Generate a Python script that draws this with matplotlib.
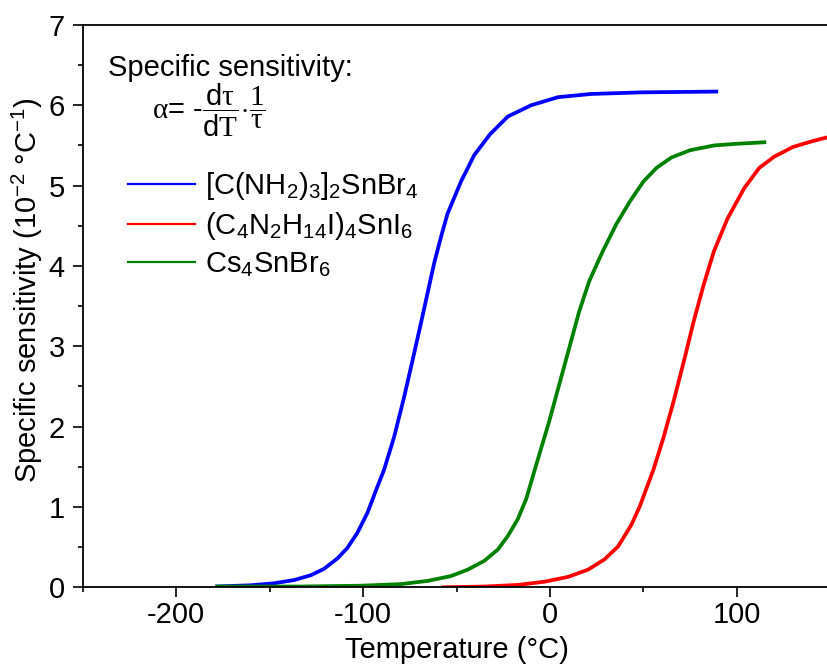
import matplotlib
matplotlib.use("Agg")
import matplotlib.pyplot as plt
from matplotlib.lines import Line2D
from matplotlib.ticker import MultipleLocator

plt.rcParams['font.family'] = ['Liberation Sans', 'DejaVu Sans']
plt.rcParams['mathtext.fontset'] = 'custom'
plt.rcParams['mathtext.rm'] = 'Liberation Sans'
plt.rcParams['mathtext.it'] = 'Liberation Sans:italic'
plt.rcParams['mathtext.bf'] = 'Liberation Serif'  # used for the serif symbols of the formula
plt.rcParams['axes.unicode_minus'] = False

# values
x_blue = [-179, -160.4, -147.8, -137, -128, -120.9, -113.7, -108.4, -103, -97.6, -93.2, -88.8, -83.4,
          -78.0, -72.7, -69.1, -65.5, -61.9, -58.3, -54.8, -47.6, -40.5, -32, -22.5, -10, 4.3, 22, 49, 90]
y_blue = [0.01, 0.025, 0.05, 0.09, 0.15, 0.23, 0.36, 0.49, 0.68, 0.93, 1.20, 1.46, 1.87,
          2.37, 2.91, 3.28, 3.66, 4.04, 4.36, 4.65, 5.05, 5.38, 5.64, 5.86, 6.00, 6.10, 6.14, 6.16, 6.17]

x_red = [-58, -35, -17.2, -2.9, 9.7, 20.4, 29.3, 36.5, 43.6, 48.1, 55.3, 60.7, 66.1, 71.5, 76.9, 82.3,
         87.7, 95, 104, 112, 120, 130, 140, 150]
y_red = [0.0, 0.01, 0.03, 0.07, 0.13, 0.22, 0.35, 0.51, 0.78, 1.01, 1.46, 1.86, 2.31, 2.80, 3.31, 3.77,
         4.18, 4.59, 4.97, 5.22, 5.36, 5.48, 5.55, 5.61]

x_green = [-179, -133.5, -101.3, -79.8, -65.5, -53, -44, -35.1, -27.9, -22.5, -17.2, -12.7, -8.3, -6.0, -0.6,
           4.8, 10.2, 15.6, 21.0, 28.2, 35.5, 42.7, 50, 57, 65, 75, 88, 100, 115.7]
y_green = [0.01, 0.01, 0.02, 0.04, 0.08, 0.14, 0.22, 0.33, 0.47, 0.64, 0.85, 1.10, 1.45, 1.63, 2.05,
           2.51, 2.97, 3.43, 3.81, 4.18, 4.52, 4.80, 5.05, 5.22, 5.35, 5.44, 5.50, 5.52, 5.54]

labels = [r'[C(NH$_2$)$_3$]$_2$SnBr$_4$', r'(C$_4$N$_2$H$_{14}$I)$_4$SnI$_6$', r'Cs$_4$SnBr$_6$']
colors = ['#0000ff', '#ff0000', '#008000']

fig = plt.figure(figsize=(8.27, 6.72), dpi=100)
ax = fig.add_axes([0.100, 0.126, 0.904, 0.837])

ax.plot(x_blue, y_blue, c=colors[0], lw=2.7, solid_capstyle='butt')
ax.plot(x_green, y_green, c=colors[2], lw=2.7, solid_capstyle='butt')
ax.plot(x_red, y_red, c=colors[1], lw=2.7, solid_capstyle='butt')

ax.set_xlim(-250, 150)
ax.set_ylim(0, 7)
ax.xaxis.set_major_locator(MultipleLocator(100))
ax.xaxis.set_minor_locator(MultipleLocator(50))
ax.yaxis.set_major_locator(MultipleLocator(1))
ax.yaxis.set_minor_locator(MultipleLocator(0.5))
ax.tick_params(which='major', direction='out', length=7, width=1.2, labelsize=21, pad=3)
ax.tick_params(axis='y', which='major', pad=6)
ax.tick_params(which='minor', direction='out', length=3.5, width=1.2)
for s in ax.spines.values():
    s.set_linewidth(1.3)

ax.set_xlabel('Temperature (°C)', fontsize=21, labelpad=5)
ax.set_ylabel(r'Specific sensitivity (10$^{-2}$ °C$^{-1}$)', fontsize=21)
ax.yaxis.set_label_coords(-0.05, 0.528)

ax.text(-236.5, 6.46, 'Specific sensitivity:', fontsize=21, va='center', ha='left')
ax.text(-213, 5.93, r'$\mathbf{\alpha}$= -$\dfrac{\mathrm{d}\mathbf{\tau}}{\mathrm{d}\mathbf{T}}\!\cdot\!\dfrac{\mathbf{1}}{\mathbf{\tau}}$',
        fontsize=21, va='center', ha='left')

handles = [Line2D([0], [0], color=c, lw=1.6) for c in colors]
ax.legend(handles, labels, loc='upper left', bbox_to_anchor=(0.045, 0.762), frameon=False,
          fontsize=21, handlelength=2.3, handletextpad=0.35, labelspacing=0.27, borderaxespad=0)

fig.savefig('out.png', dpi=100)
